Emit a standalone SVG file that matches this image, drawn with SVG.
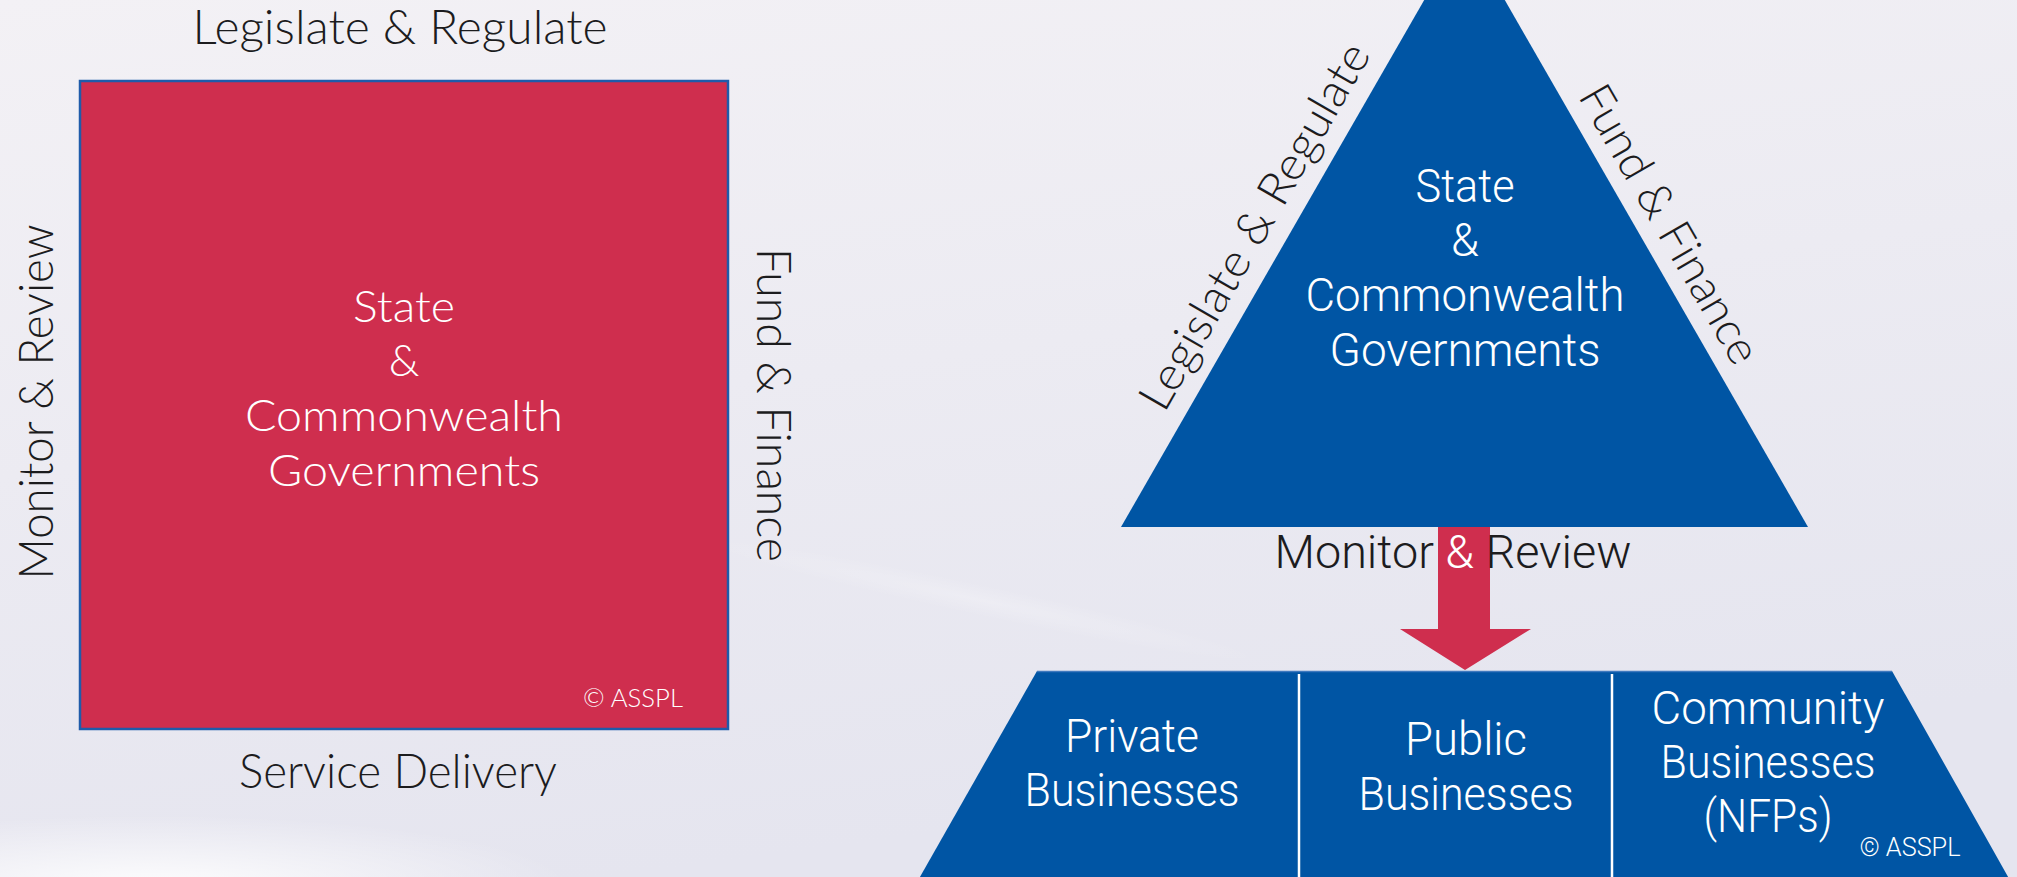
<svg xmlns="http://www.w3.org/2000/svg" width="2017" height="877" viewBox="0 0 2017 877">
  <defs>
    <linearGradient id="bg" x1="0" y1="0" x2="0.3" y2="1">
      <stop offset="0" stop-color="#F3F1F5"/>
      <stop offset="1" stop-color="#E5E5EF"/>
    </linearGradient>
    <radialGradient id="glow" cx="0.5" cy="0.5" r="0.5">
      <stop offset="0" stop-color="#FFFFFF" stop-opacity="0.9"/>
      <stop offset="1" stop-color="#FFFFFF" stop-opacity="0"/>
    </radialGradient>
    <style>
      .lbl { font-family: Lato, "Open Sans", "Liberation Sans", sans-serif; font-weight: 300; fill: #1C1C1E; }
      .wht { font-family: Lato, "Open Sans", "Liberation Sans", sans-serif; font-weight: 300; fill: #FFFFFF; }
      .cnd { font-family: Roboto, "Liberation Sans", sans-serif; font-weight: 300; fill: #FFFFFF; }
      .cndk { font-family: Roboto, "Liberation Sans", sans-serif; font-weight: 300; fill: #1C1C1E; }
      .red { fill: #CF2E4E; }
      .blue { fill: #0055A4; }
    </style>
  </defs>

  <rect x="0" y="0" width="2017" height="877" fill="url(#bg)"/>
  <ellipse cx="150" cy="885" rx="420" ry="70" fill="url(#glow)"/>
  <ellipse cx="980" cy="600" rx="300" ry="16" fill="url(#glow)" opacity="0.25" transform="rotate(12 980 600)"/>

  <!-- Left model -->
  <g id="square-model">
    <rect x="80" y="81" width="648" height="648" class="red" stroke="#1F5BAA" stroke-width="2.5"/>
    <text class="wht" text-anchor="middle" font-size="44" x="404" y="322" textLength="102" lengthAdjust="spacingAndGlyphs">State</text>
    <text class="wht" text-anchor="middle" font-size="44" x="404" y="376">&amp;</text>
    <text class="wht" text-anchor="middle" font-size="44" x="404" y="431" textLength="318" lengthAdjust="spacingAndGlyphs">Commonwealth</text>
    <text class="wht" text-anchor="middle" font-size="44" x="404" y="486" textLength="272" lengthAdjust="spacingAndGlyphs">Governments</text>
    <text class="wht" text-anchor="middle" font-size="25" x="633" y="707" textLength="100" lengthAdjust="spacingAndGlyphs">© ASSPL</text>
  </g>
  <g id="square-labels">
    <text class="lbl" text-anchor="middle" font-size="48" x="400" y="44" textLength="415" lengthAdjust="spacingAndGlyphs">Legislate &amp; Regulate</text>
    <text class="lbl" text-anchor="middle" font-size="48" x="398" y="788" textLength="318" lengthAdjust="spacingAndGlyphs">Service Delivery</text>
    <text class="lbl" text-anchor="middle" font-size="48" transform="translate(53 402) rotate(-90)" textLength="355" lengthAdjust="spacingAndGlyphs">Monitor &amp; Review</text>
    <text class="lbl" text-anchor="middle" font-size="48" transform="translate(757 405) rotate(90)" textLength="314" lengthAdjust="spacingAndGlyphs">Fund &amp; Finance</text>
  </g>

  <!-- Right model -->
  <g id="government-triangle">
    <polygon points="1464.5,-70 1808,527 1121,527" class="blue"/>
    <text class="cnd" text-anchor="middle" font-size="46" x="1465" y="202" textLength="99" lengthAdjust="spacingAndGlyphs">State</text>
    <text class="cnd" text-anchor="middle" font-size="46" x="1465" y="256" textLength="28" lengthAdjust="spacingAndGlyphs">&amp;</text>
    <text class="cnd" text-anchor="middle" font-size="46" x="1465" y="311" textLength="319" lengthAdjust="spacingAndGlyphs">Commonwealth</text>
    <text class="cnd" text-anchor="middle" font-size="46" x="1465" y="366" textLength="271" lengthAdjust="spacingAndGlyphs">Governments</text>
  </g>
  <g id="triangle-labels">
    <text class="lbl" text-anchor="middle" font-size="46" transform="translate(1268 234) rotate(-60)" textLength="415" lengthAdjust="spacingAndGlyphs">Legislate &amp; Regulate</text>
    <text class="lbl" text-anchor="middle" font-size="46" transform="translate(1656 232) rotate(60)" textLength="314" lengthAdjust="spacingAndGlyphs">Fund &amp; Finance</text>
  </g>

  <g id="connectors">
    <polygon id="monitor-arrow" points="1438,527 1490,527 1490,629 1531,629 1465,670 1400,629 1438,629" class="red"/>
    <text class="cndk" text-anchor="middle" font-size="47" x="1453" y="568" textLength="357" lengthAdjust="spacingAndGlyphs">Monitor <tspan fill="#FFFFFF">&amp;</tspan> Review</text>
  </g>

  <g id="business-trapezoid">
    <polygon points="1037,671 1892,671 2020,898 908,898" class="blue"/>
    <line x1="1037" y1="671.5" x2="1892" y2="671.5" stroke="#3F79BE" stroke-width="1.5"/>
    <line x1="1299" y1="674" x2="1299" y2="877" stroke="#FFFFFF" stroke-width="2.5"/>
    <line x1="1612" y1="674" x2="1612" y2="877" stroke="#FFFFFF" stroke-width="2.5"/>
  </g>
  <g id="private-businesses">
    <text class="cnd" text-anchor="middle" font-size="46" x="1132" y="752" textLength="134" lengthAdjust="spacingAndGlyphs">Private</text>
    <text class="cnd" text-anchor="middle" font-size="46" x="1132" y="806" textLength="215" lengthAdjust="spacingAndGlyphs">Businesses</text>
  </g>
  <g id="public-businesses">
    <text class="cnd" text-anchor="middle" font-size="46" x="1466" y="755" textLength="122" lengthAdjust="spacingAndGlyphs">Public</text>
    <text class="cnd" text-anchor="middle" font-size="46" x="1466" y="810" textLength="215" lengthAdjust="spacingAndGlyphs">Businesses</text>
  </g>
  <g id="community-businesses">
    <text class="cnd" text-anchor="middle" font-size="46" x="1768" y="724" textLength="233" lengthAdjust="spacingAndGlyphs">Community</text>
    <text class="cnd" text-anchor="middle" font-size="46" x="1768" y="778" textLength="215" lengthAdjust="spacingAndGlyphs">Businesses</text>
    <text class="cnd" text-anchor="middle" font-size="46" x="1768" y="832" textLength="129" lengthAdjust="spacingAndGlyphs">(NFPs)</text>
    <text class="cnd" text-anchor="middle" font-size="25" x="1910" y="856" textLength="101" lengthAdjust="spacingAndGlyphs">© ASSPL</text>
  </g>
</svg>
